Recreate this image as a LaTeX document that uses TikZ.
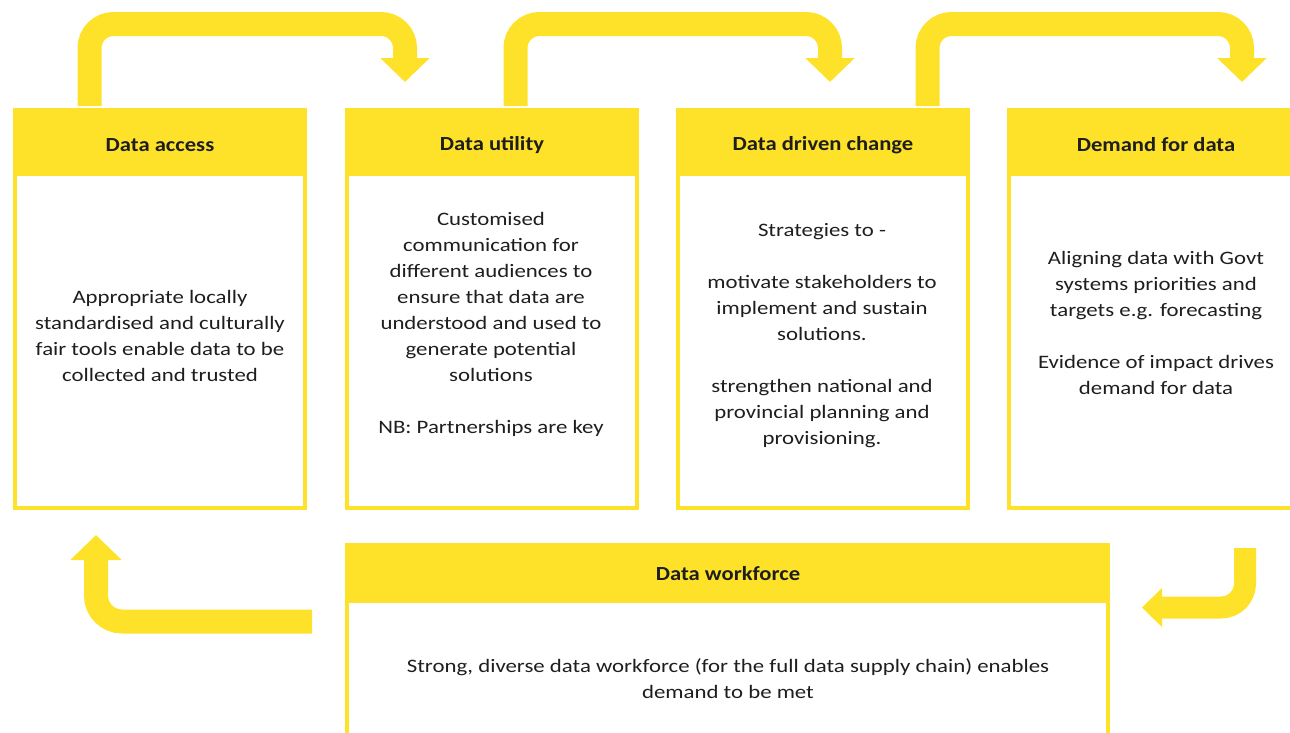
\documentclass[tikz,border=0pt]{standalone}
\usepackage{fontspec}
\setmainfont{Carlito}
\newfontfamily\widebody[FakeStretch=1.2]{Carlito}
\newfontfamily\widetitle[FakeStretch=1.13]{Carlito}
\usetikzlibrary{arrows.meta}
\definecolor{ey}{RGB}{254,226,42}
\definecolor{ink}{RGB}{30,30,30}
\tikzset{
  boxbody/.style={draw=ey, line width=4pt, inner sep=0pt},
  title/.style={font=\widetitle\fontsize{20}{24}\selectfont\bfseries, text=ink, inner sep=0pt},
  body/.style={font=\widebody\fontsize{19}{26}\selectfont, text=ink, align=center, inner sep=0pt},
  flow/.style={draw=ey, line width=24pt, rounded corners=24pt, line cap=butt,
    -{Triangle[width=48pt,length=24pt]}},
}
\begin{document}
\begin{tikzpicture}[x=1pt,y=-1pt]
\useasboundingbox (0,0) rectangle (1290,732);
\clip (0,0) rectangle (1290,732);
% top boxes
\node[boxbody, minimum width=290pt, minimum height=398pt] (b1) at (160,309) {};
\node[boxbody, minimum width=290pt, minimum height=398pt] (b2) at (492,309) {};
\node[boxbody, minimum width=290pt, minimum height=398pt] (b3) at (823,309) {};
\node[boxbody, minimum width=290pt, minimum height=398pt] (b4) at (1154,309) {};
\fill[ey] (13,108) rectangle (307,176);
\fill[ey] (345,108) rectangle (639,176);
\fill[ey] (676,108) rectangle (970,176);
\fill[ey] (1007,108) rectangle (1301,176);
% bottom box
\node[boxbody, minimum width=761pt, minimum height=215pt] (b5) at (727.5,652.5) {};
\fill[ey] (345,543) rectangle (1110,603);
% titles
\node[title] (t1) at (160,145) {Data access};
\node[title] (t2) at (492,145) {Data utility};
\node[title] (t3) at (823,145) {Data driven change};
\node[title] (t4) at (1156,145) {Demand for data};
\node[title] (t5) at (728,574) {Data workforce};
% body texts
\node[body] (x1) at (160,336) {Appropriate locally\\standardised and culturally\\fair tools enable data to be\\collected and trusted};
\node[body] (x2) at (491,324) {Customised\\communication for\\different audiences to\\ensure that data are\\understood and used to\\generate potential\\solutions\\[26pt]NB: Partnerships are key};
\node[body] (x3) at (822,336) {Strategies to -\\[26pt]motivate stakeholders to\\implement and sustain\\solutions.\\[26pt]strengthen national and\\provincial planning and\\provisioning.};
\node[body] (x4) at (1156,323) {Aligning data with Govt\\systems priorities and\\targets e.g. forecasting\\[26pt]Evidence of impact drives\\demand for data};
\node[body] (x5) at (728,678.5) {Strong, diverse data workforce (for the full data supply chain) enables\\demand to be met};
% arrows
\coordinate (a1s) at (89.5,106);
\coordinate (a1e) at (405,82);
\coordinate (a2s) at (515.5,106);
\coordinate (a2e) at (830,82);
\coordinate (a3s) at (927.5,106);
\coordinate (a3e) at (1242,82);
\draw[flow] (a1s) |- (247,24) -| (a1e);
\draw[flow] (a2s) |- (672,24) -| (a2e);
\draw[flow] (a3s) |- (1085,24) -| (a3e);
\coordinate (a4s) at (1245,548);
\coordinate (a4e) at (1142,607.5);
\draw[draw=ey, line width=22pt, rounded corners=24pt, -{Triangle[width=38pt,length=20pt]}] (a4s) |- (a4e);
\coordinate (a5s) at (312,621.5);
\coordinate (a5e) at (96,535);
\draw[draw=ey, line width=24pt, rounded corners=26pt, -{Triangle[width=50pt,length=25pt]}] (a5s) -| (a5e);
\end{tikzpicture}
\end{document}
